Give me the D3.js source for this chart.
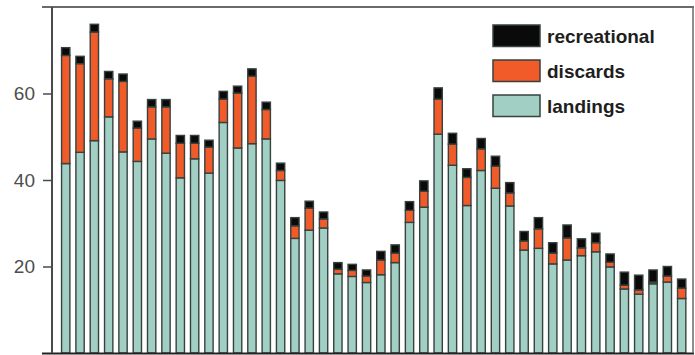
<!DOCTYPE html>
<html>
<head>
<meta charset="utf-8">
<script src="https://cdn.jsdelivr.net/npm/d3@7"></script>
<style>
  html, body { margin: 0; padding: 0; background: #ffffff; }
  svg { display: block; }
</style>
</head>
<body>
<svg id="chart" width="695" height="355"></svg>
<script>
// ---- data ----
const categories = [1,2,3,4,5,6,7,8,9,10,11,12,13,14,15,16,17,18,19,20,21,22,
                    23,24,25,26,27,28,29,30,31,32,33,34,35,36,37,38,39,40,41,42,43,44];
const landings = [43.8,46.4,49.1,54.6,46.5,44.3,49.5,46.2,40.5,44.9,41.6,53.3,47.4,48.4,49.5,39.9,
                  26.5,28.4,28.9,18.3,17.7,16.3,18.1,20.9,30.2,33.7,50.6,43.4,34.1,42.2,38.1,34.0,
                  23.8,24.2,20.6,21.5,22.5,23.4,19.9,14.8,13.6,16.0,16.4,12.6];
const discards = [25.0,20.5,25.1,8.8,16.3,7.7,7.4,10.7,8.0,3.6,6.0,5.4,12.7,15.6,6.8,2.3,
                  2.9,5.1,2.1,1.1,1.4,1.5,3.4,2.2,2.8,3.7,8.1,4.9,6.5,5.0,5.1,3.0,
                  2.1,4.5,2.5,5.1,1.8,2.1,1.1,0.9,1.0,0.4,1.4,2.4];
const recreational = [1.8,1.7,1.8,1.7,1.7,1.6,1.7,1.7,1.8,1.8,1.6,1.8,1.6,1.7,1.7,1.7,
                      1.9,1.6,1.6,1.5,1.4,1.4,2.0,1.9,2.0,2.4,2.6,2.5,2.0,2.4,2.3,2.4,
                      2.2,2.6,2.4,3.0,2.1,2.2,1.9,3.0,3.4,2.8,2.2,2.1];
const seriesKeys = ["landings", "discards", "recreational"];
const legendOrder = ["recreational", "discards", "landings"];
const yTicks = [20, 40, 60];

const colors = { landings: "#a1cfc4", discards: "#f15a29", recreational: "#0a0a0a" };

// ---- layout ----
const svg = d3.select("#chart");
const frameLeft = 42, axisX = 52, frameRight = 693, frameTop = 7, frameBottom = 353;

const rows = categories.map((c, i) => ({
  cat: c, landings: landings[i], discards: discards[i], recreational: recreational[i]
}));

const x = d3.scaleBand()
  .domain(categories)
  .range([54.4, 693])
  .paddingInner(0.42)
  .paddingOuter(0.5);

const y = d3.scaleLinear().domain([0, 80]).range([frameBottom, frameTop]);

const stacked = d3.stack().keys(seriesKeys)(rows);

// bars
const g = svg.append("g");
stacked.forEach(layer => {
  g.selectAll(null)
    .data(layer)
    .enter()
    .append("rect")
    .attr("x", d => x(d.data.cat))
    .attr("width", x.bandwidth())
    .attr("y", d => y(d[1]))
    .attr("height", d => Math.max(0, y(d[0]) - y(d[1])))
    .attr("fill", colors[layer.key])
    .attr("stroke", "#37423f")
    .attr("stroke-width", 1.4);
});

// frame lines
const frameColor = "#4a4a4a";
svg.append("line").attr("x1", frameLeft).attr("x2", frameRight + 1)
  .attr("y1", frameTop).attr("y2", frameTop)
  .attr("stroke", "#6a6a6a").attr("stroke-width", 2);
svg.append("line").attr("x1", frameLeft).attr("x2", frameRight + 1)
  .attr("y1", frameBottom + 0.5).attr("y2", frameBottom + 0.5)
  .attr("stroke", "#222").attr("stroke-width", 2);
svg.append("line").attr("x1", frameRight).attr("x2", frameRight)
  .attr("y1", frameTop).attr("y2", frameBottom)
  .attr("stroke", "#6a6a6a").attr("stroke-width", 1.5);

// y axis
const yAxis = d3.axisLeft(y).tickValues(yTicks).tickSize(9).tickPadding(8)
  .tickFormat(d3.format("d"));
const ya = svg.append("g").attr("transform", `translate(${axisX},0)`).call(yAxis);
ya.select(".domain").remove();
ya.selectAll(".tick line").attr("stroke", frameColor).attr("stroke-width", 1.5);
ya.selectAll(".tick text")
  .attr("fill", "#4d4d4d")
  .style("font-family", "'Liberation Sans', Arial, sans-serif")
  .style("font-size", "19px");
svg.append("line").attr("x1", axisX).attr("x2", axisX)
  .attr("y1", frameTop).attr("y2", frameBottom)
  .attr("stroke", frameColor).attr("stroke-width", 2);

// legend
const legend = svg.append("g");
legendOrder.forEach((k, i) => {
  const top = 25 + i * 35;
  legend.append("rect")
    .attr("x", 493).attr("y", top)
    .attr("width", 47).attr("height", 21.5)
    .attr("fill", colors[k])
    .attr("stroke", "#37423f").attr("stroke-width", 1.5);
  legend.append("text")
    .attr("x", 547).attr("y", top + 17.5)
    .attr("fill", "#1e1e1e")
    .style("font-family", "'Liberation Sans', Arial, sans-serif")
    .style("font-weight", "bold")
    .style("font-size", "19px")
    .text(k);
});
</script>
</body>
</html>
